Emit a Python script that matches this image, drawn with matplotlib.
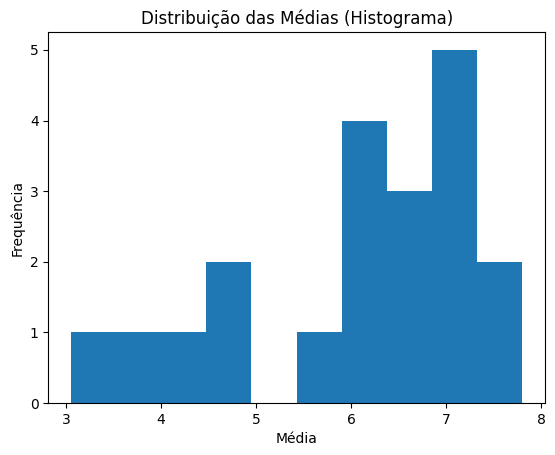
import matplotlib
matplotlib.use("Agg")
from matplotlib import pyplot as plt

# médias (estimadas a partir do histograma)
medias = [3.05, 3.8, 4.2, 4.6, 4.8, 5.6, 6.0, 6.1, 6.2, 6.3,
          6.5, 6.6, 6.7, 6.9, 7.0, 7.1, 7.2, 7.3, 7.5, 7.8]
n_bins = 10

fig = plt.figure(figsize=(5.55, 4.55), dpi=100)
ax = fig.add_subplot(111)
ax.hist(medias, bins=n_bins)
ax.set_title("Distribuição das Médias (Histograma)")
ax.set_xlabel("Média")
ax.set_ylabel("Frequência")
fig.subplots_adjust(left=0.087, right=0.982, top=0.929, bottom=0.114)
fig.savefig("out.png", dpi=100)
